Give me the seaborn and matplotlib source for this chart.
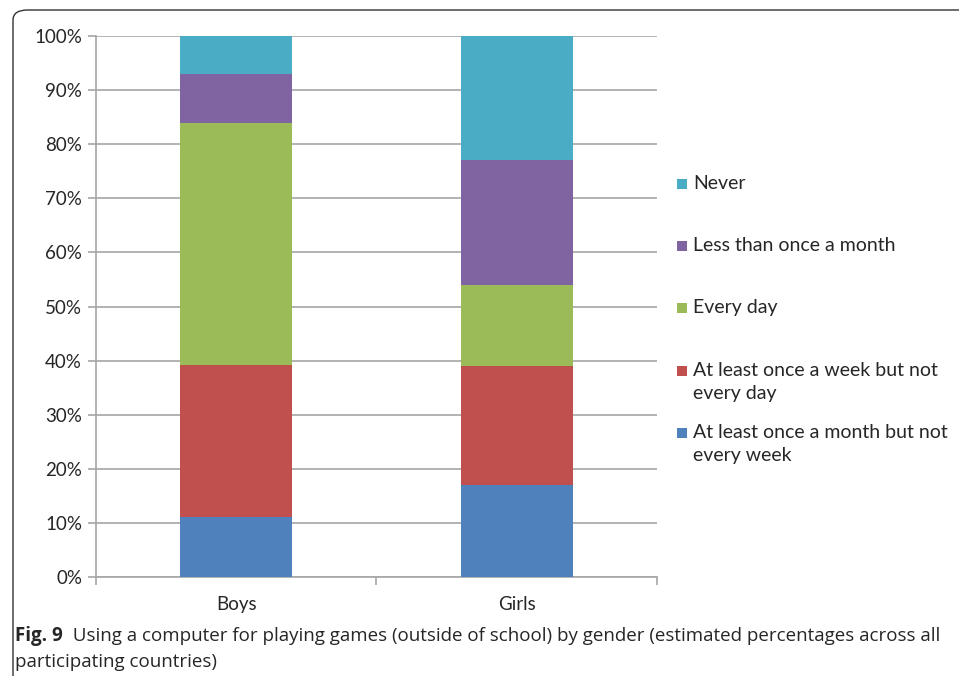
import matplotlib
matplotlib.use("Agg")
import matplotlib.pyplot as plt
import seaborn as sns
import numpy as np
from matplotlib.patches import FancyBboxPatch, Rectangle
from matplotlib.ticker import FixedLocator, PercentFormatter

# ---- data ----
genders = ["Boys", "Girls"]
levels = [
    "At least once a month but not\nevery week",
    "At least once a week but not\nevery day",
    "Every day",
    "Less than once a month",
    "Never",
]
boys = [11.0, 28.2, 44.7, 9.0, 7.1]
girls = [17.0, 22.0, 15.0, 23.0, 23.0]
colors = ["#4F81BD", "#C0504D", "#9BBB59", "#8064A2", "#4BACC6"]
yticks = [0, 10, 20, 30, 40, 50, 60, 70, 80, 90, 100]
caption_bold = "Fig. 9"
caption_line1 = "  Using a computer for playing games (outside of school) by gender (estimated percentages across all"
caption_line2 = "participating countries)"

sns.set_style("white")
plt.rcParams["font.family"] = ["Lato", "DejaVu Sans"]

W, H = 959, 676
fig = plt.figure(figsize=(W / 100, H / 100), dpi=100)
ax = fig.add_axes([96 / W, 1 - 577 / H, (657 - 96) / W, (577 - 36) / H])

cum_b = np.cumsum(boys)
cum_g = np.cumsum(girls)
for i in range(len(levels) - 1, -1, -1):
    sns.barplot(x=genders, y=[cum_b[i], cum_g[i]], color=colors[i], saturation=1,
                width=0.4, ax=ax, linewidth=0, zorder=3)

ax.set_xlim(-0.5, 1.5)
ax.set_ylim(0, 100)
ax.yaxis.set_major_locator(FixedLocator(yticks))
ax.yaxis.set_major_formatter(PercentFormatter(decimals=0))
ax.grid(axis="y", color="#A6A6A6", linewidth=1.2, zorder=0)
ax.set_axisbelow(True)
for s in ["top", "right"]:
    ax.spines[s].set_visible(False)
for s in ["left", "bottom"]:
    ax.spines[s].set_color("#A6A6A6")
    ax.spines[s].set_linewidth(1.2)
ax.tick_params(axis="y", length=6, color="#A6A6A6", width=1.2, labelsize=13.5, pad=4, left=True)
ax.tick_params(axis="x", which="major", length=0, labelsize=13.5, pad=14)
ax.set_xticks([-0.5, 0.5, 1.5], minor=True)
ax.tick_params(axis="x", which="minor", length=6, color="#A6A6A6", width=1.2, bottom=True)
ax.set_xlabel("")
ax.set_ylabel("")

# legend (Excel-style, entries placed by first-line position)
leg_y = [184, 246, 308, 371, 433]
for k, i in enumerate(range(len(levels) - 1, -1, -1)):
    y = leg_y[k]
    fig.patches.append(Rectangle((677 / W, 1 - (y + 5) / H), 10 / W, 10 / H,
                                 transform=fig.transFigure, facecolor=colors[i],
                                 edgecolor="none"))
    fig.text(693 / W, 1 - (y - 9) / H, levels[i], fontsize=14, va="top", ha="left",
             linespacing=1.45)

# border
border = FancyBboxPatch((13 / W, -0.2), 1.2, 1 - 10 / H + 0.2,
                        boxstyle="round,pad=0,rounding_size=0.015",
                        transform=fig.transFigure, facecolor="none", edgecolor="#333333",
                        linewidth=1.0, zorder=10)
fig.patches.append(border)

# caption
cap_font = ["Open Sans", "DejaVu Sans"]
t1 = fig.text(15 / W, 1 - 636 / H, caption_bold, fontsize=13.5, fontweight="bold",
              family=cap_font, va="center", ha="left")
fig.canvas.draw()
bb = t1.get_window_extent()
fig.text(bb.x1 / W, 1 - 636 / H, caption_line1, fontsize=13.5,
         family=cap_font, va="center", ha="left")
fig.text(15 / W, 1 - 662 / H, caption_line2, fontsize=13.5,
         family=cap_font, va="center", ha="left")

fig.savefig("out.png", dpi=100)
